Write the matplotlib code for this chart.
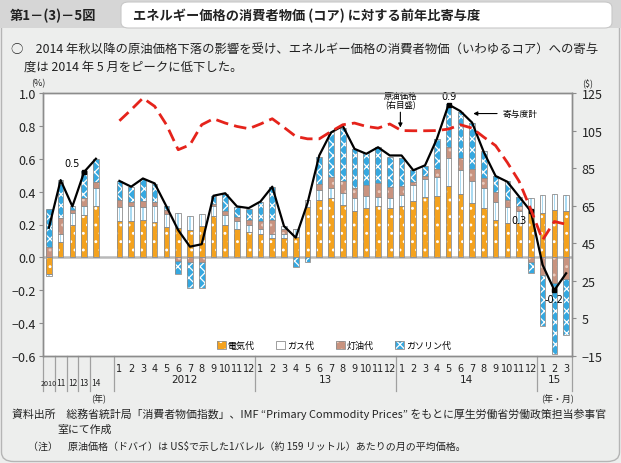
import matplotlib
matplotlib.use('Agg')
import matplotlib.pyplot as plt
from matplotlib.patches import Rectangle, FancyBboxPatch, Patch
from matplotlib.legend_handler import HandlerTuple
from matplotlib.transforms import blended_transform_factory
import numpy as np

plt.rcParams['font.family'] = ['Noto Sans CJK JP', 'DejaVu Sans']
plt.rcParams['hatch.linewidth'] = 0.9

# ---------------- data ----------------
annual_labels = ['2010', '11', '12', '13', '14']
month_labels = [str(m) for m in range(1, 13)] * 3 + ['1', '2', '3']
year_labels = ['2012', '13', '14', '15']

elec_annual = [-0.10, 0.095, 0.20, 0.26, 0.31]
gas_annual = [-0.015, 0.045, 0.07, 0.053, 0.115]
kero_annual = [0.065, 0.10, 0.02, 0.05, 0.036]
gasoline_annual = [0.23, 0.23, 0.022, 0.16, 0.14]
total_annual = [0.18, 0.47, 0.31, 0.52, 0.60]

elec_monthly = [0.22, 0.22, 0.226, 0.216, 0.186, 0.18, 0.166, 0.19, 0.25, 0.20, 0.17, 0.155,
                0.14, 0.12, 0.12, 0.125, 0.307, 0.35, 0.36, 0.32, 0.28, 0.30, 0.31, 0.30,
                0.31, 0.34, 0.37, 0.375, 0.435, 0.384, 0.33, 0.30, 0.226, 0.21, 0.21, 0.287,
                0.27, 0.287, 0.283]
gas_monthly = [0.087, 0.093, 0.08, 0.095, 0.08, 0.09, 0.085, 0.075, 0.065, 0.055, 0.05, 0.04,
               0.035, 0.02, 0.025, 0.05, 0.04, 0.057, 0.065, 0.07, 0.08, 0.075, 0.06, 0.06,
               0.067, 0.10, 0.107, 0.115, 0.17, 0.15, 0.137, 0.12, 0.11, 0.097, 0.075, 0.075,
               0.107, 0.097, 0.095]
kero_monthly = [0.04, 0.024, 0.04, 0.026, 0.02, -0.02, -0.026, -0.026, 0.01, 0.03, 0.024, 0.03,
                0.045, 0.09, 0.03, 0.0, 0.0, 0.04, 0.065, 0.075, 0.06, 0.067, 0.08, 0.07,
                0.06, 0.016, 0.018, 0.05, 0.067, 0.07, 0.07, 0.06, 0.06, 0.04, 0.03, -0.026,
                -0.11, -0.158, -0.133]
gasoline_monthly = [0.117, 0.09, 0.13, 0.11, 0.025, -0.08, -0.16, -0.16, 0.05, 0.10, 0.06, 0.067,
                    0.117, 0.20, 0.015, -0.057, -0.026, 0.166, 0.27, 0.32, 0.24, 0.19, 0.22, 0.18,
                    0.17, 0.075, 0.063, 0.18, 0.26, 0.28, 0.28, 0.17, 0.10, 0.115, 0.05, -0.067,
                    -0.31, -0.43, -0.337]
total_monthly = [0.465, 0.43, 0.48, 0.45, 0.31, 0.166, 0.065, 0.08, 0.375, 0.39, 0.31, 0.30,
                 0.34, 0.43, 0.19, 0.12, 0.33, 0.62, 0.76, 0.80, 0.66, 0.63, 0.67, 0.62,
                 0.62, 0.53, 0.56, 0.72, 0.93, 0.89, 0.82, 0.64, 0.495, 0.46, 0.37, 0.28,
                 -0.046, -0.20, -0.097]
oil_price = [110.2, 116.1, 122.3, 117.9, 108.1, 94.8, 97.4, 108.1, 111.3, 109.0, 107.2, 106.0,
             108.5, 111.3, 106.7, 101.9, 100.6, 100.6, 104.5, 108.1, 109.0, 107.2, 106.3, 108.5,
             105.0, 104.9, 104.9, 105.0, 105.8, 108.1, 106.3, 101.5, 97.0, 88.0, 78.0, 63.0,
             46.8, 56.6, 55.1]

series_names = ['電気代', 'ガス代', '灯油代', 'ガソリン代']

# ---------------- figure ----------------
W, H = 621, 464
fig = plt.figure(figsize=(W / 100, H / 100), dpi=100)
fig.patch.set_facecolor('#EDEEED')


def fx(px):
    return px / W


def fy(py):
    return 1 - py / H


# outer border
fig.patches.append(FancyBboxPatch((fx(1.5), fy(462.5)), fx(618), 460.5 / H,
                                  boxstyle='round,pad=0,rounding_size=0.02', transform=fig.transFigure,
                                  facecolor='none', edgecolor='#B5B5B5', lw=1.0, zorder=0))
# title band
fig.patches.append(Rectangle((0, fy(29)), 1, 29 / H, transform=fig.transFigure,
                             facecolor='#D6D6D6', edgecolor='none', zorder=0))
fig.patches.append(FancyBboxPatch((fx(121), fy(29)), fx(612 - 121), 26 / H,
                                  boxstyle='round,pad=0,rounding_size=0.012', transform=fig.transFigure,
                                  facecolor='white', edgecolor='#C8C8C8', lw=0.8, zorder=0))
fig.text(fx(10), fy(16), '第1－(3)－5図', fontsize=9.5, fontweight='bold', va='center', ha='left', color='#222222')
fig.text(fx(133), fy(16), 'エネルギー価格の消費者物価 (コア) に対する前年比寄与度', fontsize=9.5,
         fontweight='bold', va='center', ha='left', color='#222222')
fig.text(fx(11), fy(50), '○　2014 年秋以降の原油価格下落の影響を受け、エネルギー価格の消費者物価（いわゆるコア）への寄与',
         fontsize=8.9, va='center', ha='left', color='#222222')
fig.text(fx(24), fy(67), '度は 2014 年 5 月をピークに低下した。', fontsize=8.9, va='center', ha='left', color='#222222')

fig.text(fx(12), fy(414), '資料出所　総務省統計局「消費者物価指数」、IMF “Primary Commodity Prices” をもとに厚生労働省労働政策担当参事官',
         fontsize=7.85, va='center', ha='left', color='#222222')
fig.text(fx(57), fy(430), '室にて作成', fontsize=7.85, va='center', ha='left', color='#222222')
fig.text(fx(28), fy(447), '（注）　原油価格（ドバイ）は US$で示した1バレル（約 159 リットル）あたりの月の平均価格。',
         fontsize=7.2, va='center', ha='left', color='#222222')

# ---------------- axes ----------------
ax = fig.add_axes([fx(43), fy(357), fx(572 - 43), (357 - 94) / H])
ax.set_facecolor('white')
ax2 = ax.twinx()

n_a = len(annual_labels)
n_m = len(month_labels)
x_annual = np.arange(n_a)
x_month = np.arange(n_m) + n_a + 1
x_all = np.concatenate([x_annual, x_month])

elec = np.array(elec_annual + elec_monthly)
gas = np.array(gas_annual + gas_monthly)
kero = np.array(kero_annual + kero_monthly)
gasoline = np.array(gasoline_annual + gasoline_monthly)

bw = 0.48
outline = '#8E8E8E'
styles = [
    dict(fc='#F4A21E', hc='white', hatch='..'),
    dict(fc='white', hc='white', hatch=None),
    dict(fc='#C8937F', hc='#E9CBBE', hatch='..'),
    dict(fc='#35A8E0', hc='white', hatch='xxx'),
]

ax.axhline(0, color='#B9B9B9', lw=1.8, zorder=0.5)

pos_base = np.zeros(len(x_all))
neg_base = np.zeros(len(x_all))
for vals, st in zip([elec, gas, kero, gasoline], styles):
    bottom = np.where(vals >= 0, pos_base, neg_base)
    ax.bar(x_all, vals, bw, bottom=bottom, color=st['fc'], edgecolor=st['hc'], hatch=st['hatch'],
           lw=0, zorder=2)
    if st['hatch'] is None:
        ax.bar(x_all, vals, bw * 0.28, bottom=bottom, color='#A9DAF2', lw=0, zorder=2.1)
    ax.bar(x_all, vals, bw, bottom=bottom, fill=False, edgecolor=outline, lw=0.6, zorder=2.2)
    pos_base += np.where(vals >= 0, vals, 0)
    neg_base += np.where(vals < 0, vals, 0)

# total contribution line
ax.plot(x_annual, total_annual, color='black', lw=1.6, zorder=4)
ax.plot(x_month, total_monthly, color='black', lw=1.6, zorder=4)

mk = [(x_annual[3], total_annual[3], -0.35, 0.055, 'right'),
      (x_month[28], total_monthly[28], 0.0, 0.05, 'center'),
      (x_month[35], total_monthly[35], -0.35, -0.05, 'right'),
      (x_month[37], total_monthly[37], 0.0, -0.055, 'center')]
for xv, yv, dx, dy, ha in mk:
    ax.plot([xv], [yv], marker='s', ms=3.5, color='black', zorder=5)
    ax.text(xv + dx, yv + dy, f'{yv:.1f}', fontsize=7, ha=ha, va='center', zorder=6,
            family=['DejaVu Sans'])

ax.set_xlim(-0.5, n_a + n_m + 0.5)
ax.set_ylim(-0.6, 1.0)
ax.set_yticks(np.arange(-0.6, 1.01, 0.2))
ax.set_yticklabels([f'{v:.1f}'.replace('-', '−') for v in np.arange(-0.6, 1.01, 0.2)])
ax.set_xticks([])

# oil price line on right axis
ax2.plot(x_month, oil_price, color='#E5231B', lw=2.0, dashes=(4.5, 2.2), zorder=3)
ax2.set_ylim(-15, 125)
ax2.set_yticks(np.arange(-15, 126, 20))
ax2.set_yticklabels([str(v).replace('-', '−') for v in np.arange(-15, 126, 20)])

for a in (ax, ax2):
    for s in a.spines.values():
        s.set_color('#8C8C8C')
        s.set_linewidth(1.0)
    a.tick_params(axis='y', labelsize=9, colors='#8C8C8C', labelcolor='#222222', length=3, width=0.8)
ax.tick_params(axis='y', pad=2)
ax2.tick_params(axis='y', pad=4)

fig.text(fx(38), fy(84), '(%)', fontsize=6.5, ha='center', va='center', color='#222222')
fig.text(fx(588), fy(84), '($)', fontsize=6.5, ha='center', va='center', color='#222222')

# annotations
ax.annotate('原油価格\n(右目盛)', xy=(29.9, 0.79), xytext=(29.9, 0.955), fontsize=6, ha='center', va='center',
            linespacing=1.0, zorder=7,
            arrowprops=dict(arrowstyle='-|>', color='black', lw=0.8, mutation_scale=6, shrinkA=0, shrinkB=0))
ax.annotate('寄与度計', xy=(36.1, 0.875), xytext=(38.6, 0.875), fontsize=6.3, ha='left', va='center',
            zorder=7,
            arrowprops=dict(arrowstyle='-|>', color='black', lw=0.8, mutation_scale=6, shrinkA=2, shrinkB=0))

# legend
handles = []
for st in styles:
    if st['hatch'] is None:
        p1 = Patch(facecolor='white', edgecolor='#7FC6EC', hatch='|', lw=0)
    else:
        p1 = Patch(facecolor=st['fc'], edgecolor=st['hc'], hatch=st['hatch'], lw=0)
    p2 = Patch(facecolor='none', edgecolor=outline, lw=0.6)
    handles.append((p1, p2))
leg = ax.legend(handles, series_names, handler_map={tuple: HandlerTuple(ndivide=1, pad=0)},
                loc='center', bbox_to_anchor=(0.55, 0.04), ncol=4, frameon=False, fontsize=6.5,
                handlelength=1.0, handleheight=1.0, handletextpad=0.2, columnspacing=2.4)

# x-axis category labels and separators below the axes
trans = blended_transform_factory(ax.transData, ax.transAxes)
sep_bottom = -(392 - 357) / 263
for xs in [-0.5, 0.5, 1.5, 2.5, 3.5, 5.5, 17.5, 29.5, 41.5, 44.5]:
    ax.plot([xs, xs], [0, sep_bottom], transform=trans, color='#A0A0A0', lw=0.9, clip_on=False, zorder=1)
for xv, lab in zip(x_annual, annual_labels):
    ax.text(xv, -(384 - 357) / 263, lab, transform=trans, fontsize=5.2 if lab == '2010' else 6,
            ha='center', va='center', color='#222222')
for xv, lab in zip(x_month, month_labels):
    ax.text(xv, -(369 - 357) / 263, lab, transform=trans, fontsize=7, ha='center', va='center',
            color='#222222', family=['DejaVu Sans'])
for xc, lab in zip([11.5, 23.5, 35.5, 43.0], year_labels):
    ax.text(xc, -(380 - 357) / 263, lab, transform=trans, fontsize=7.5, ha='center', va='center',
            color='#222222', family=['DejaVu Sans'])
ax.text(4.2, -(399 - 357) / 263, '(年)', transform=trans, fontsize=6.5, ha='center', va='center', color='#222222')
ax.text(43.3, -(399 - 357) / 263, '(年・月)', transform=trans, fontsize=6.5, ha='center', va='center',
        color='#222222')

fig.savefig('out.png', dpi=100, facecolor=fig.get_facecolor())
